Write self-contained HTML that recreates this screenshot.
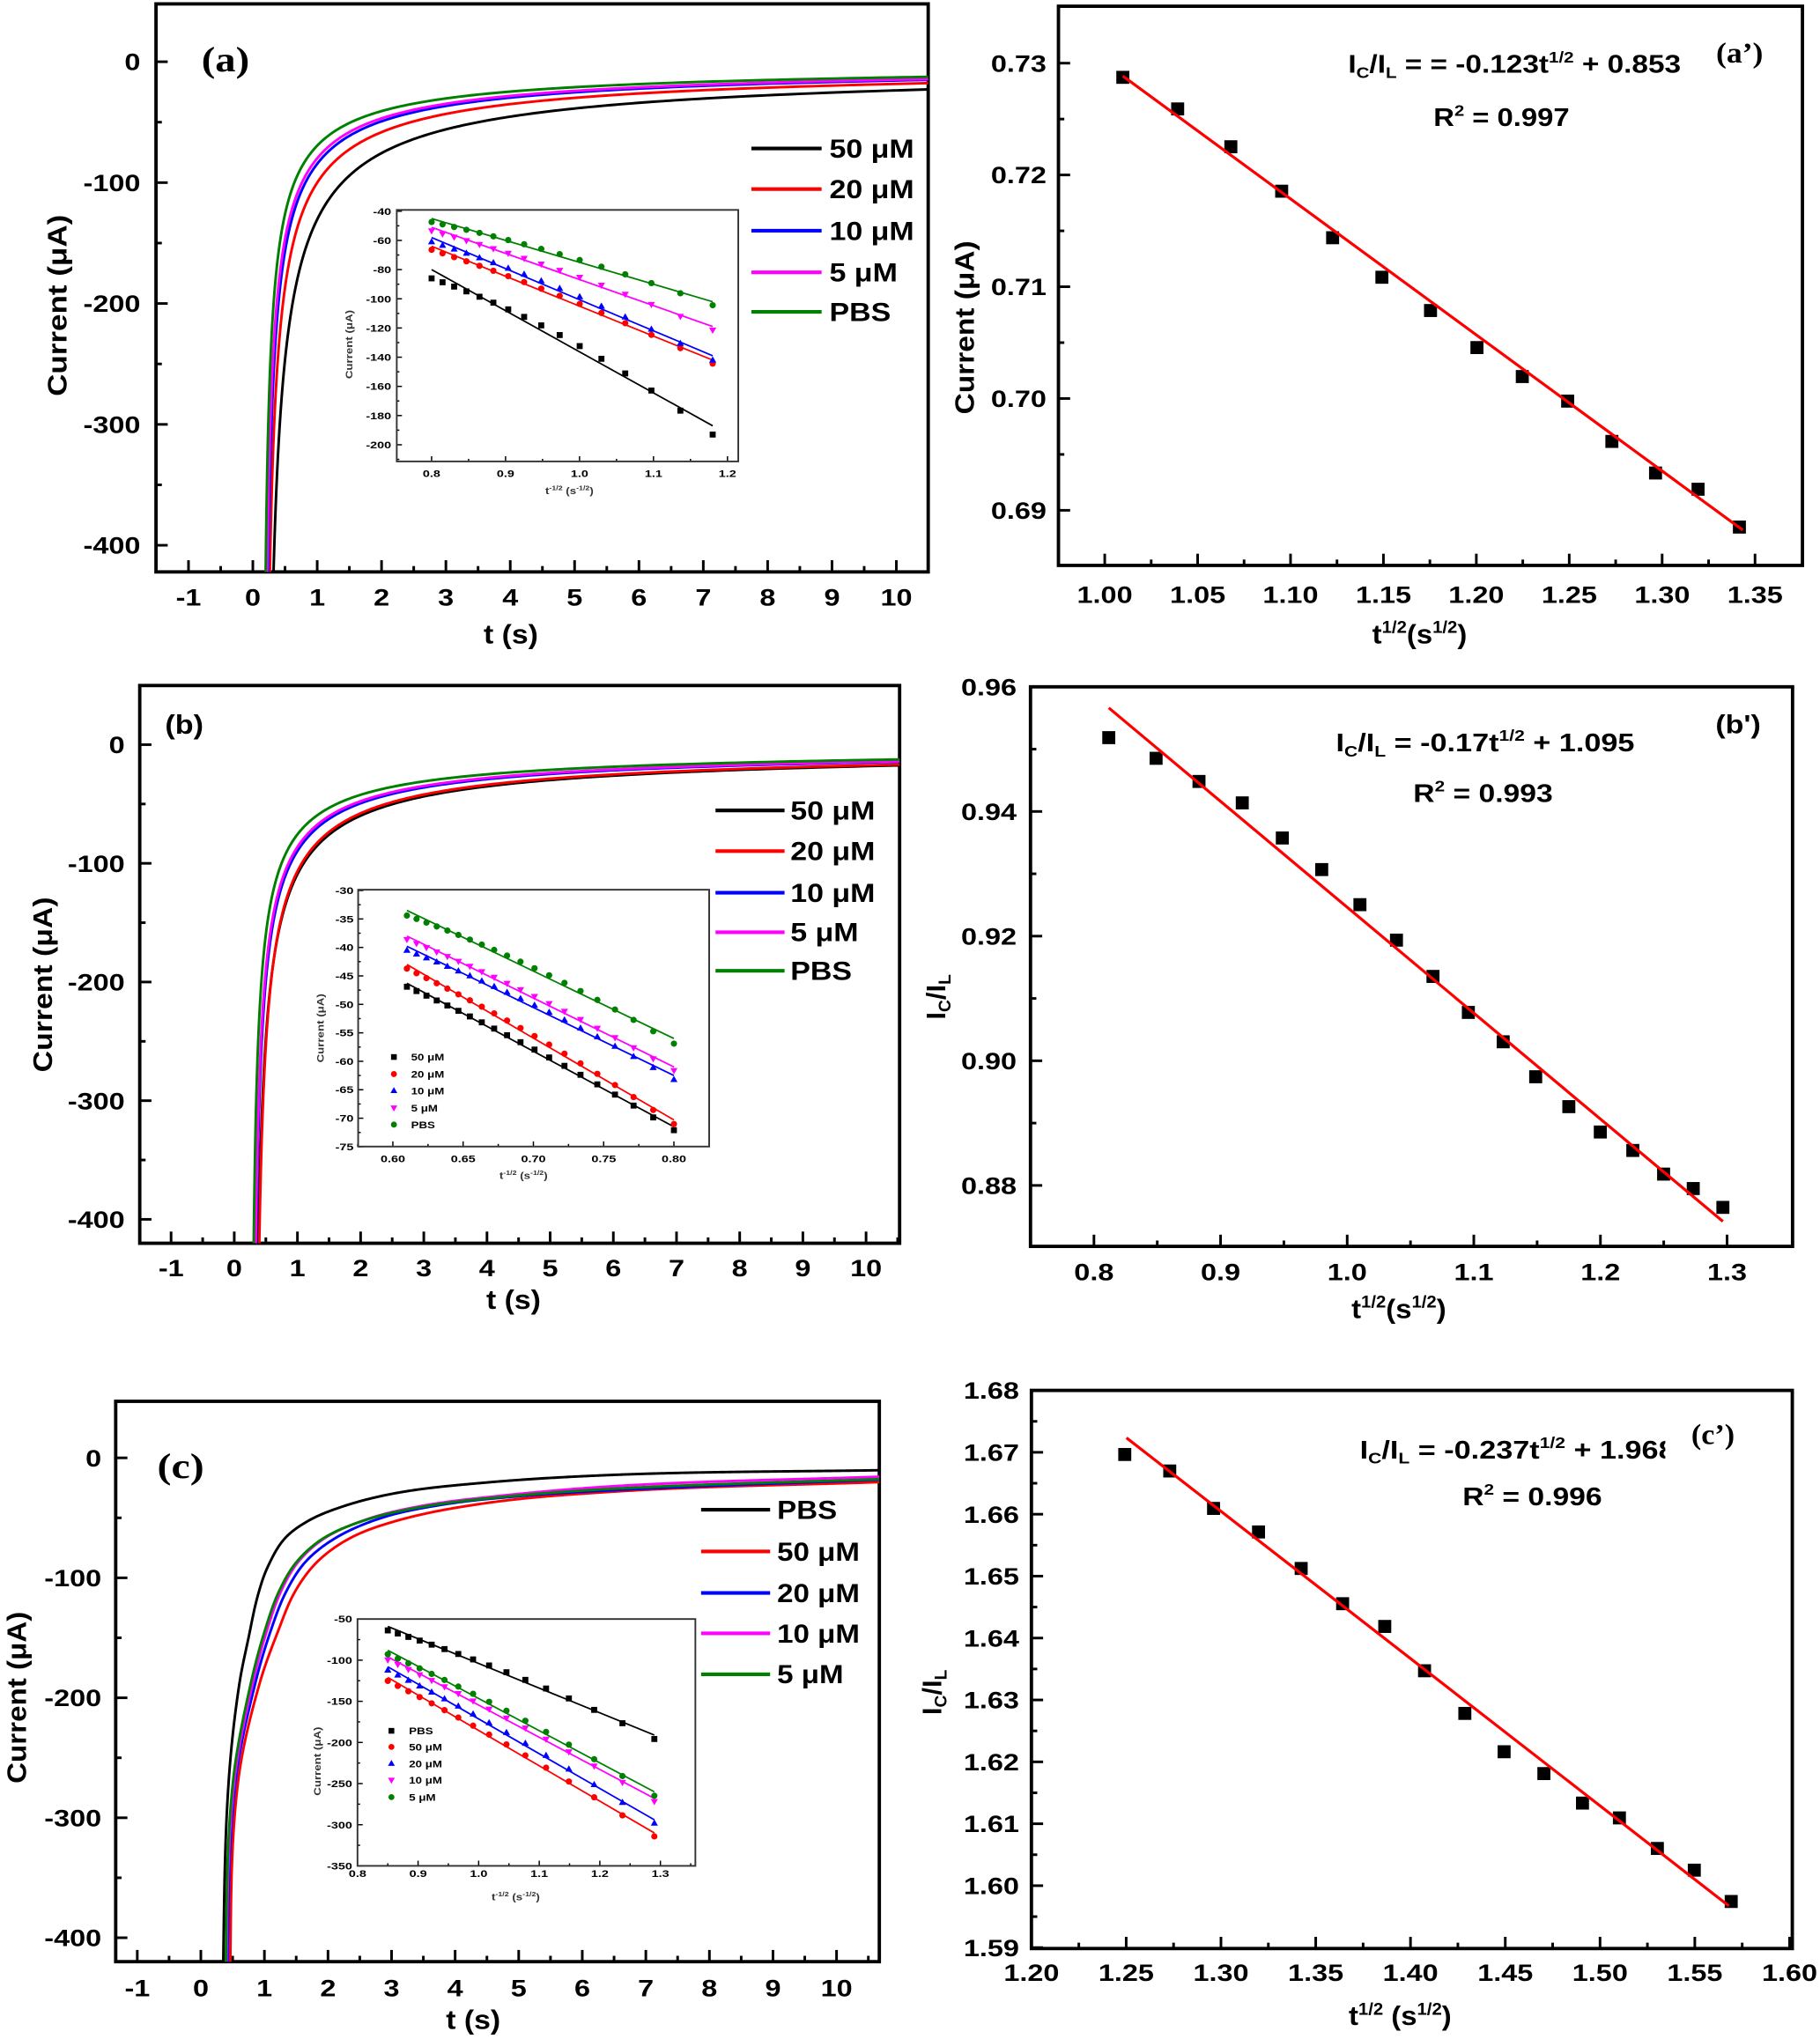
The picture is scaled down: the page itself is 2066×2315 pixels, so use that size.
<!DOCTYPE html>
<html><head><meta charset="utf-8">
<style>
html,body{margin:0;padding:0;background:#fff;width:2066px;height:2315px;overflow:hidden}
svg{display:block}
text{font-family:"Liberation Sans",Arial,sans-serif;font-weight:bold;fill:#000}
.tk{font-size:18px}
.it{font-size:7.5px;fill:#333}
.ser{font-family:"Liberation Serif","Times New Roman",serif}
.lg{font-size:20px}
</style></head>
<body>
<svg id="fig" width="2066" height="2315" viewBox="0 0 1400 1568.7" preserveAspectRatio="none">
<defs>
<clipPath id="ca"><rect x="120" y="3" width="594" height="437"/></clipPath>
<clipPath id="cb"><rect x="107.5" y="527.4" width="584.5" height="429.1"/></clipPath>
<clipPath id="cc"><rect x="89" y="1078.1" width="587.4" height="431.1"/></clipPath>
<clipPath id="ceq"><rect x="1000" y="1085" width="281" height="55"/></clipPath>
</defs>
<rect x="0" y="0" width="1400" height="1568.7" fill="#fff"/>
<g id="dyn"></g>

<!-- Panel (a) tick labels -->
<g class="tk" text-anchor="end">
<text transform="translate(108,54) scale(1.22,1)">0</text>
<text transform="translate(108,147) scale(1.22,1)">-100</text>
<text transform="translate(108,240) scale(1.22,1)">-200</text>
<text transform="translate(108,333) scale(1.22,1)">-300</text>
<text transform="translate(108,426) scale(1.22,1)">-400</text>
</g>
<g class="tk" text-anchor="middle">
<text transform="translate(145,466) scale(1.22,1)">-1</text>
<text transform="translate(194.5,466) scale(1.22,1)">0</text>
<text transform="translate(244,466) scale(1.22,1)">1</text>
<text transform="translate(293.5,466) scale(1.22,1)">2</text>
<text transform="translate(343,466) scale(1.22,1)">3</text>
<text transform="translate(392.5,466) scale(1.22,1)">4</text>
<text transform="translate(442,466) scale(1.22,1)">5</text>
<text transform="translate(491.5,466) scale(1.22,1)">6</text>
<text transform="translate(541,466) scale(1.22,1)">7</text>
<text transform="translate(590.5,466) scale(1.22,1)">8</text>
<text transform="translate(640,466) scale(1.22,1)">9</text>
<text transform="translate(689.5,466) scale(1.22,1)">10</text>
</g>
<text transform="translate(51,235) rotate(-90) scale(1.13,1)" text-anchor="middle" font-size="21">Current (μA)</text>
<text transform="translate(393,495) scale(1.09,1)" text-anchor="middle" font-size="21">t (s)</text>
<text class="ser" transform="translate(155,55) scale(1.17,1)" font-size="27">(a)</text>
<g class="lg">
<text transform="translate(638,121.2) scale(1.15,1)">50 μM</text>
<text transform="translate(638,152.5) scale(1.15,1)">20 μM</text>
<text transform="translate(638,184.5) scale(1.15,1)">10 μM</text>
<text transform="translate(638,216.5) scale(1.15,1)">5 μM</text>
<text transform="translate(638,246.9) scale(1.15,1)">PBS</text>
</g>
<!-- inset a labels -->
<g class="it" text-anchor="middle">
<text transform="translate(332,367) scale(1.3,1)">0.8</text>
<text transform="translate(388.9,367) scale(1.3,1)">0.9</text>
<text transform="translate(445.8,367) scale(1.3,1)">1.0</text>
<text transform="translate(502.7,367) scale(1.3,1)">1.1</text>
<text transform="translate(559.6,367) scale(1.3,1)">1.2</text>
</g>
<g class="it" text-anchor="end">
<text transform="translate(301,165.2) scale(1.3,1)">-40</text>
<text transform="translate(301,187.7) scale(1.3,1)">-60</text>
<text transform="translate(301,210.1) scale(1.3,1)">-80</text>
<text transform="translate(301,232.6) scale(1.3,1)">-100</text>
<text transform="translate(301,255) scale(1.3,1)">-120</text>
<text transform="translate(301,277.5) scale(1.3,1)">-140</text>
<text transform="translate(301,300) scale(1.3,1)">-160</text>
<text transform="translate(301,322.4) scale(1.3,1)">-180</text>
<text transform="translate(301,344.9) scale(1.3,1)">-200</text>
</g>
<text class="it" transform="translate(438,380) scale(1.2,1)" text-anchor="middle" font-size="7">t<tspan font-size="5" dy="-3">-1/2</tspan><tspan dy="3"> (s</tspan><tspan font-size="5" dy="-3">-1/2</tspan><tspan dy="3">)</tspan></text>
<text class="it" transform="translate(271,265) rotate(-90) scale(1.2,1)" text-anchor="middle" font-size="7">Current (μA)</text>

<!-- Panel (b) -->
<g class="tk" text-anchor="end">
<text transform="translate(96,579.4) scale(1.22,1)">0</text>
<text transform="translate(96,670.7) scale(1.22,1)">-100</text>
<text transform="translate(96,762) scale(1.22,1)">-200</text>
<text transform="translate(96,853.3) scale(1.22,1)">-300</text>
<text transform="translate(96,944.6) scale(1.22,1)">-400</text>
</g>
<g class="tk" text-anchor="middle">
<text transform="translate(131.6,982) scale(1.22,1)">-1</text>
<text transform="translate(180.2,982) scale(1.22,1)">0</text>
<text transform="translate(228.8,982) scale(1.22,1)">1</text>
<text transform="translate(277.4,982) scale(1.22,1)">2</text>
<text transform="translate(326,982) scale(1.22,1)">3</text>
<text transform="translate(374.6,982) scale(1.22,1)">4</text>
<text transform="translate(423.2,982) scale(1.22,1)">5</text>
<text transform="translate(471.8,982) scale(1.22,1)">6</text>
<text transform="translate(520.4,982) scale(1.22,1)">7</text>
<text transform="translate(569,982) scale(1.22,1)">8</text>
<text transform="translate(617.6,982) scale(1.22,1)">9</text>
<text transform="translate(666.2,982) scale(1.22,1)">10</text>
</g>
<text transform="translate(40,757.5) rotate(-90) scale(1.09,1)" text-anchor="middle" font-size="21">Current (μA)</text>
<text transform="translate(395,1007) scale(1.09,1)" text-anchor="middle" font-size="21">t (s)</text>
<text transform="translate(127,564.5) scale(1.1,1)" font-size="21">(b)</text>
<g class="lg">
<text transform="translate(608,630.5) scale(1.15,1)">50 μM</text>
<text transform="translate(608,661.8) scale(1.15,1)">20 μM</text>
<text transform="translate(608,693.8) scale(1.15,1)">10 μM</text>
<text transform="translate(608,724.2) scale(1.15,1)">5 μM</text>
<text transform="translate(608,753.9) scale(1.15,1)">PBS</text>
</g>
<g class="it" text-anchor="middle">
<text transform="translate(302.2,894) scale(1.3,1)">0.60</text>
<text transform="translate(356.3,894) scale(1.3,1)">0.65</text>
<text transform="translate(410.3,894) scale(1.3,1)">0.70</text>
<text transform="translate(464.4,894) scale(1.3,1)">0.75</text>
<text transform="translate(518.4,894) scale(1.3,1)">0.80</text>
</g>
<g class="it" text-anchor="end">
<text transform="translate(272,687.8) scale(1.3,1)">-30</text>
<text transform="translate(272,709.7) scale(1.3,1)">-35</text>
<text transform="translate(272,731.6) scale(1.3,1)">-40</text>
<text transform="translate(272,753.5) scale(1.3,1)">-45</text>
<text transform="translate(272,775.4) scale(1.3,1)">-50</text>
<text transform="translate(272,797.3) scale(1.3,1)">-55</text>
<text transform="translate(272,819.2) scale(1.3,1)">-60</text>
<text transform="translate(272,841.1) scale(1.3,1)">-65</text>
<text transform="translate(272,863) scale(1.3,1)">-70</text>
<text transform="translate(272,884.9) scale(1.3,1)">-75</text>
</g>
<g class="it">
<text transform="translate(316.2,815.9) scale(1.2,1)">50 μM</text>
<text transform="translate(316.2,829) scale(1.2,1)">20 μM</text>
<text transform="translate(316.2,841.9) scale(1.2,1)">10 μM</text>
<text transform="translate(316.2,855) scale(1.2,1)">5 μM</text>
<text transform="translate(316.2,867.9) scale(1.2,1)">PBS</text>
</g>
<text class="it" transform="translate(402.7,907) scale(1.2,1)" text-anchor="middle" font-size="7">t<tspan font-size="5" dy="-3">-1/2</tspan><tspan dy="3"> (s</tspan><tspan font-size="5" dy="-3">-1/2</tspan><tspan dy="3">)</tspan></text>
<text class="it" transform="translate(249,791) rotate(-90) scale(1.2,1)" text-anchor="middle" font-size="7">Current (μA)</text>

<!-- Panel (c) -->
<g class="tk" text-anchor="end">
<text transform="translate(78,1128.1) scale(1.22,1)">0</text>
<text transform="translate(78,1220.4) scale(1.22,1)">-100</text>
<text transform="translate(78,1312.7) scale(1.22,1)">-200</text>
<text transform="translate(78,1405) scale(1.22,1)">-300</text>
<text transform="translate(78,1497.3) scale(1.22,1)">-400</text>
</g>
<g class="tk" text-anchor="middle">
<text transform="translate(105.6,1536) scale(1.22,1)">-1</text>
<text transform="translate(154.5,1536) scale(1.22,1)">0</text>
<text transform="translate(203.4,1536) scale(1.22,1)">1</text>
<text transform="translate(252.3,1536) scale(1.22,1)">2</text>
<text transform="translate(301.2,1536) scale(1.22,1)">3</text>
<text transform="translate(350.1,1536) scale(1.22,1)">4</text>
<text transform="translate(399,1536) scale(1.22,1)">5</text>
<text transform="translate(447.9,1536) scale(1.22,1)">6</text>
<text transform="translate(496.8,1536) scale(1.22,1)">7</text>
<text transform="translate(545.7,1536) scale(1.22,1)">8</text>
<text transform="translate(594.6,1536) scale(1.22,1)">9</text>
<text transform="translate(643.5,1536) scale(1.22,1)">10</text>
</g>
<text transform="translate(20,1306) rotate(-90) scale(1.07,1)" text-anchor="middle" font-size="21">Current (μA)</text>
<text transform="translate(364,1561) scale(1.09,1)" text-anchor="middle" font-size="21">t (s)</text>
<text class="ser" transform="translate(121,1137) scale(1.2,1)" font-size="27">(c)</text>
<g class="lg">
<text transform="translate(597.8,1168.5) scale(1.12,1)">PBS</text>
<text transform="translate(597.8,1200.6) scale(1.12,1)">50 μM</text>
<text transform="translate(597.8,1232.5) scale(1.12,1)">20 μM</text>
<text transform="translate(597.8,1263.6) scale(1.12,1)">10 μM</text>
<text transform="translate(597.8,1295.1) scale(1.12,1)">5 μM</text>
</g>
<g class="it" text-anchor="middle">
<text transform="translate(275,1444) scale(1.3,1)">0.8</text>
<text transform="translate(321.6,1444) scale(1.3,1)">0.9</text>
<text transform="translate(368.2,1444) scale(1.3,1)">1.0</text>
<text transform="translate(414.8,1444) scale(1.3,1)">1.1</text>
<text transform="translate(461.4,1444) scale(1.3,1)">1.2</text>
<text transform="translate(508,1444) scale(1.3,1)">1.3</text>
</g>
<g class="it" text-anchor="end">
<text transform="translate(271,1248.3) scale(1.3,1)">-50</text>
<text transform="translate(271,1280) scale(1.3,1)">-100</text>
<text transform="translate(271,1311.6) scale(1.3,1)">-150</text>
<text transform="translate(271,1343.3) scale(1.3,1)">-200</text>
<text transform="translate(271,1374.9) scale(1.3,1)">-250</text>
<text transform="translate(271,1406.6) scale(1.3,1)">-300</text>
<text transform="translate(271,1438.2) scale(1.3,1)">-350</text>
</g>
<g class="it">
<text transform="translate(314.6,1334.3) scale(1.2,1)">PBS</text>
<text transform="translate(314.6,1346.7) scale(1.2,1)">50 μM</text>
<text transform="translate(314.6,1359.5) scale(1.2,1)">20 μM</text>
<text transform="translate(314.6,1372.2) scale(1.2,1)">10 μM</text>
<text transform="translate(314.6,1385.3) scale(1.2,1)">5 μM</text>
</g>
<text class="it" transform="translate(396.7,1462) scale(1.2,1)" text-anchor="middle" font-size="7">t<tspan font-size="5" dy="-3">-1/2</tspan><tspan dy="3"> (s</tspan><tspan font-size="5" dy="-3">-1/2</tspan><tspan dy="3">)</tspan></text>
<text class="it" transform="translate(246.5,1355) rotate(-90) scale(1.2,1)" text-anchor="middle" font-size="7">Current (μA)</text>

<!-- Panel (a') -->
<g class="tk" text-anchor="end">
<text transform="translate(805,55.1) scale(1.22,1)">0.73</text>
<text transform="translate(805,141.1) scale(1.22,1)">0.72</text>
<text transform="translate(805,227.1) scale(1.22,1)">0.71</text>
<text transform="translate(805,313.1) scale(1.22,1)">0.70</text>
<text transform="translate(805,399.1) scale(1.22,1)">0.69</text>
</g>
<g class="tk" text-anchor="middle">
<text transform="translate(849.8,464) scale(1.22,1)">1.00</text>
<text transform="translate(921.3,464) scale(1.22,1)">1.05</text>
<text transform="translate(992.7,464) scale(1.22,1)">1.10</text>
<text transform="translate(1064.2,464) scale(1.22,1)">1.15</text>
<text transform="translate(1135.6,464) scale(1.22,1)">1.20</text>
<text transform="translate(1207.1,464) scale(1.22,1)">1.25</text>
<text transform="translate(1278.6,464) scale(1.22,1)">1.30</text>
<text transform="translate(1350,464) scale(1.22,1)">1.35</text>
</g>
<text transform="translate(749,252) rotate(-90) scale(1.08,1)" text-anchor="middle" font-size="21">Current (μA)</text>
<text transform="translate(1092,495) scale(1.06,1)" text-anchor="middle" font-size="21">t<tspan font-size="13" dy="-8">1/2</tspan><tspan dy="8">(s</tspan><tspan font-size="13" dy="-8">1/2</tspan><tspan dy="8">)</tspan></text>
<text transform="translate(1037,56) scale(1.16,1)" font-size="19.5">I<tspan font-size="12" dy="4">C</tspan><tspan dy="-4">/I</tspan><tspan font-size="12" dy="4">L</tspan><tspan dy="-4"> = = -0.123t</tspan><tspan font-size="12" dy="-8">1/2</tspan><tspan dy="8"> + 0.853</tspan></text>
<text transform="translate(1155,97) scale(1.14,1)" text-anchor="middle" font-size="19.5">R<tspan font-size="12" dy="-8">2</tspan><tspan dy="8"> = 0.997</tspan></text>
<text class="ser" transform="translate(1320,48) scale(1.1,1)" font-size="22">(a’)</text>

<!-- Panel (b') -->
<g class="tk" text-anchor="end">
<text transform="translate(782,534.9) scale(1.22,1)">0.96</text>
<text transform="translate(782,630.8) scale(1.22,1)">0.94</text>
<text transform="translate(782,726.7) scale(1.22,1)">0.92</text>
<text transform="translate(782,822.6) scale(1.22,1)">0.90</text>
<text transform="translate(782,918.5) scale(1.22,1)">0.88</text>
</g>
<g class="tk" text-anchor="middle">
<text transform="translate(841.5,985) scale(1.22,1)">0.8</text>
<text transform="translate(938.9,985) scale(1.22,1)">0.9</text>
<text transform="translate(1036.3,985) scale(1.22,1)">1.0</text>
<text transform="translate(1133.7,985) scale(1.22,1)">1.1</text>
<text transform="translate(1231.1,985) scale(1.22,1)">1.2</text>
<text transform="translate(1328.5,985) scale(1.22,1)">1.3</text>
</g>
<text transform="translate(727,767) rotate(-90)" text-anchor="middle" font-size="21">I<tspan font-size="13" dy="4">C</tspan><tspan dy="-4">/I</tspan><tspan font-size="13" dy="4">L</tspan></text>
<text transform="translate(1076,1014) scale(1.06,1)" text-anchor="middle" font-size="21">t<tspan font-size="13" dy="-8">1/2</tspan><tspan dy="8">(s</tspan><tspan font-size="13" dy="-8">1/2</tspan><tspan dy="8">)</tspan></text>
<text transform="translate(1027.6,578) scale(1.19,1)" font-size="19.5">I<tspan font-size="12" dy="4">C</tspan><tspan dy="-4">/I</tspan><tspan font-size="12" dy="4">L</tspan><tspan dy="-4"> = -0.17t</tspan><tspan font-size="12" dy="-8">1/2</tspan><tspan dy="8"> + 1.095</tspan></text>
<text transform="translate(1140.8,617) scale(1.17,1)" text-anchor="middle" font-size="19.5">R<tspan font-size="12" dy="-8">2</tspan><tspan dy="8"> = 0.993</tspan></text>
<text transform="translate(1319.6,564) scale(1.15,1)" font-size="20">(b')</text>

<!-- Panel (c') -->
<g class="tk" text-anchor="end">
<text transform="translate(784,1076.2) scale(1.22,1)">1.68</text>
<text transform="translate(784,1123.8) scale(1.22,1)">1.67</text>
<text transform="translate(784,1171.5) scale(1.22,1)">1.66</text>
<text transform="translate(784,1219.1) scale(1.22,1)">1.65</text>
<text transform="translate(784,1266.7) scale(1.22,1)">1.64</text>
<text transform="translate(784,1314.4) scale(1.22,1)">1.63</text>
<text transform="translate(784,1362) scale(1.22,1)">1.62</text>
<text transform="translate(784,1409.6) scale(1.22,1)">1.61</text>
<text transform="translate(784,1457.2) scale(1.22,1)">1.60</text>
<text transform="translate(784,1504.9) scale(1.22,1)">1.59</text>
</g>
<g class="tk" text-anchor="middle">
<text transform="translate(793.4,1524) scale(1.22,1)">1.20</text>
<text transform="translate(866.3,1524) scale(1.22,1)">1.25</text>
<text transform="translate(939.2,1524) scale(1.22,1)">1.30</text>
<text transform="translate(1012.1,1524) scale(1.22,1)">1.35</text>
<text transform="translate(1085,1524) scale(1.22,1)">1.40</text>
<text transform="translate(1157.9,1524) scale(1.22,1)">1.45</text>
<text transform="translate(1230.8,1524) scale(1.22,1)">1.50</text>
<text transform="translate(1303.7,1524) scale(1.22,1)">1.55</text>
<text transform="translate(1376.6,1524) scale(1.22,1)">1.60</text>
</g>
<text transform="translate(724,1302) rotate(-90)" text-anchor="middle" font-size="21">I<tspan font-size="13" dy="4">C</tspan><tspan dy="-4">/I</tspan><tspan font-size="13" dy="4">L</tspan></text>
<text transform="translate(1077,1558) scale(1.06,1)" text-anchor="middle" font-size="21">t<tspan font-size="13" dy="-8">1/2</tspan><tspan dy="8"> (s</tspan><tspan font-size="13" dy="-8">1/2</tspan><tspan dy="8">)</tspan></text>
<g clip-path="url(#ceq)">
<text transform="translate(1046,1122) scale(1.19,1)" font-size="19.5">I<tspan font-size="12" dy="4">C</tspan><tspan dy="-4">/I</tspan><tspan font-size="12" dy="4">L</tspan><tspan dy="-4"> = -0.237t</tspan><tspan font-size="12" dy="-8">1/2</tspan><tspan dy="8"> + 1.968</tspan></text>
</g>
<text transform="translate(1178.7,1158) scale(1.17,1)" text-anchor="middle" font-size="19.5">R<tspan font-size="12" dy="-8">2</tspan><tspan dy="8"> = 0.996</tspan></text>
<text class="ser" transform="translate(1301,1111) scale(1.05,1)" font-size="22">(c’)</text>
</svg>

<script>
(function(){
var S=[];
function f(v){return (+v).toFixed(2);}
function ln(x1,y1,x2,y2,w,c){S.push('<line x1="'+f(x1)+'" y1="'+f(y1)+'" x2="'+f(x2)+'" y2="'+f(y2)+'" stroke="'+(c||'#000')+'" stroke-width="'+w+'"/>');}
function rng(a,b,s){var r=[],n=Math.round((b-a)/s);for(var i=0;i<=n;i++)r.push(a+i*s);return r;}
function axes(o){
  if(o.bg)S.push('<rect x="'+o.x0+'" y="'+o.y0+'" width="'+f(o.x1-o.x0)+'" height="'+f(o.y1-o.y0)+'" fill="#fff"/>');
  o.xt.forEach(function(v){var x=o.X(v);ln(x,o.y1,x,o.y1-o.L,o.tw);});
  o.xm.forEach(function(v){var x=o.X(v);ln(x,o.y1,x,o.y1-o.l,o.tw);});
  o.yt.forEach(function(v){var y=o.Y(v);ln(o.x0,y,o.x0+o.L,y,o.tw);});
  o.ym.forEach(function(v){var y=o.Y(v);ln(o.x0,y,o.x0+o.l,y,o.tw);});
  S.push('<rect x="'+o.x0+'" y="'+o.y0+'" width="'+f(o.x1-o.x0)+'" height="'+f(o.y1-o.y0)+'" fill="none" stroke="'+(o.fc||'#000')+'" stroke-width="'+o.w+'"/>');
}
function mk(sh,x,y,s,c){
  if(sh==='sq')S.push('<rect x="'+f(x-s)+'" y="'+f(y-s)+'" width="'+f(2*s)+'" height="'+f(2*s)+'" fill="'+c+'"/>');
  else if(sh==='ci')S.push('<circle cx="'+f(x)+'" cy="'+f(y)+'" r="'+f(s*1.05)+'" fill="'+c+'"/>');
  else if(sh==='tu')S.push('<path d="M'+f(x)+' '+f(y-s*1.3)+'L'+f(x+s*1.2)+' '+f(y+s*0.8)+'L'+f(x-s*1.2)+' '+f(y+s*0.8)+'Z" fill="'+c+'"/>');
  else if(sh==='td')S.push('<path d="M'+f(x)+' '+f(y+s*1.3)+'L'+f(x+s*1.2)+' '+f(y-s*0.8)+'L'+f(x-s*1.2)+' '+f(y-s*0.8)+'Z" fill="'+c+'"/>');
}
function curve(P,E,tE,t0,pw,col){
  var tmax=(P.x1-P.X(0))/(P.X(1)-P.X(0))+0.05;
  var a=E*Math.pow(tE-t0,pw),d='',n=500,dt0=0.004;
  for(var i=0;i<=n;i++){var t=t0+dt0*Math.pow((tmax-t0)/dt0,i/n);var I=-a/Math.pow(t-t0,pw);if(I<-800)I=-800;d+=(i?'L':'M')+f(P.X(t))+' '+f(P.Y(I));}
  S.push('<path d="'+d+'" fill="none" stroke="'+col+'" stroke-width="2" stroke-linejoin="round" clip-path="url(#'+P.clip+')"/>');
}
function mono(xs,ys){
  var n=xs.length,d=[],m=[],i;
  for(i=0;i<n-1;i++)d[i]=(ys[i+1]-ys[i])/(xs[i+1]-xs[i]);
  m[0]=d[0];m[n-1]=d[n-2];
  for(i=1;i<n-1;i++)m[i]=(d[i-1]*d[i]<=0)?0:(d[i-1]+d[i])/2;
  for(i=0;i<n-1;i++){
    if(d[i]===0){m[i]=0;m[i+1]=0;continue;}
    var a=m[i]/d[i],b=m[i+1]/d[i],h=a*a+b*b;
    if(h>9){var tau=3/Math.sqrt(h);m[i]=tau*a*d[i];m[i+1]=tau*b*d[i];}
  }
  return function(x){
    var k=0;while(k<n-2&&x>xs[k+1])k++;
    var hh=xs[k+1]-xs[k],t=(x-xs[k])/hh,t2=t*t,t3=t2*t;
    return (2*t3-3*t2+1)*ys[k]+(t3-2*t2+t)*hh*m[k]+(-2*t3+3*t2)*ys[k+1]+(t3-t2)*hh*m[k+1];
  };
}
/* pixel-space spline parameterised by chord length */
function pspl(P,pts,col){
  pts=[[pts[0][0]-0.012,-540]].concat(pts);
  var X=pts.map(function(p){return P.X(p[0]);}),Y=pts.map(function(p){return P.Y(p[1]);});
  var u=[0];for(var i=1;i<X.length;i++)u.push(u[i-1]+Math.sqrt(Math.pow(X[i]-X[i-1],2)+Math.pow(Y[i]-Y[i-1],2)));
  var fx=mono(u,X),fy=mono(u,Y),d='',n=700,U=u[u.length-1];
  for(var j=0;j<=n;j++){var s=U*j/n;d+=(j?'L':'M')+f(fx(s))+' '+f(fy(s));}
  S.push('<path d="'+d+'" fill="none" stroke="'+col+'" stroke-width="2" stroke-linejoin="round" clip-path="url(#'+P.clip+')"/>');
}
function inset(P,xa,xb,n,ser){
  ser.forEach(function(s){
    var col=s[0],sh=s[1],va=s[2],vb=s[3],A=s[4];
    var ta=1/(xb*xb),tb=1/(xa*xa);
    for(var i=0;i<n;i++){var t=ta+(tb-ta)*i/(n-1);var x=1/Math.sqrt(t);var u=(x-xa)/(xb-xa);var v=va+(vb-va)*u-A*(0.6-4*u*(1-u));mk(sh,P.X(x),P.Y(v),2.3,col);}
    ln(P.X(xa),P.Y(va),P.X(xb),P.Y(vb),1.2,col);
  });
}
function scat(pts,l){pts.forEach(function(p){mk('sq',p[0],p[1],5,'#000');});ln(l[0],l[1],l[2],l[3],2.2,'#ff0000');}
var K='#000',R='#ff0000',B='#0000ff',M='#ff00ff',G='#008000';

/* Panel a */
var A={x0:120,y0:3,x1:714,y1:440,X:function(t){return 194.5+49.5*t;},Y:function(I){return 47.5-0.93*I;},xt:rng(-1,10,1),xm:rng(-0.5,9.5,1),yt:rng(-400,0,100),ym:rng(-350,-50,100),L:9,l:4.5,tw:2,w:2.6,clip:'ca'};
axes(A);
curve(A,22.9,10.5,0.17,0.69,K);
curve(A,17.7,10.5,0.16,0.69,R);
curve(A,15,10.5,0.155,0.69,B);
curve(A,14.3,10.5,0.145,0.69,M);
curve(A,12.5,10.5,0.136,0.69,G);
[[K,114.2],[R,145.5],[B,177.5],[M,209.5],[G,239.9]].forEach(function(q){ln(578,q[1],632,q[1],2.8,q[0]);});
var Ia={x0:305.2,y0:161.5,x1:567.9,y1:355,X:function(v){return 332+(v-0.8)*569;},Y:function(v){return 162.5+(-40-v)*1.123;},xt:rng(0.8,1.2,0.1),xm:rng(0.85,1.15,0.1),yt:rng(-200,-40,20),ym:rng(-210,-50,20),L:4,l:2,tw:1,w:1.3,fc:'#333',bg:1};
axes(Ia);
inset(Ia,0.8,1.18,16,[[K,'sq',-80,-187,10],[R,'ci',-64,-142,4],[B,'tu',-58,-139,5],[M,'td',-51,-119,4],[G,'ci',-45,-102,4]]);

/* Panel b */
var Bp={x0:107.5,y0:527.4,x1:692,y1:956.5,X:function(t){return 180.2+48.6*t;},Y:function(I){return 572.9-0.913*I;},xt:rng(-1,10,1),xm:rng(-0.5,10.5,1),yt:rng(-400,0,100),ym:rng(-350,-50,100),L:9,l:4.5,tw:2,w:2.6,clip:'cb'};
axes(Bp);
curve(Bp,17.5,10.5,0.28,0.69,K);
curve(Bp,16.8,10.5,0.30,0.69,R);
curve(Bp,14.5,10.5,0.27,0.69,B);
curve(Bp,14,10.5,0.266,0.69,M);
curve(Bp,12.5,10.5,0.245,0.69,G);
[[K,623.5],[R,654.8],[B,686.8],[M,717.2],[G,746.9]].forEach(function(q){ln(550.4,q[1],603.5,q[1],2.8,q[0]);});
var Ib={x0:275.5,y0:684.5,x1:545.5,y1:882.1,X:function(v){return 302.2+(v-0.6)*1081;},Y:function(v){return 707+(-35-v)*4.38;},xt:rng(0.6,0.8,0.05),xm:[0.575].concat(rng(0.625,0.775,0.05)),yt:rng(-75,-30,5),ym:rng(-72.5,-32.5,5),L:4,l:2,tw:1,w:1.3,fc:'#333',bg:1};
axes(Ib);
inset(Ib,0.61,0.80,20,[[K,'sq',-46.3,-71.5,1],[R,'ci',-43,-70.3,1.2],[B,'tu',-39.8,-62.5,1.2],[M,'td',-38,-61,1],[G,'ci',-33.5,-56,1.5]]);
mk('sq',303,813.2,2.2,K);mk('ci',303,826.3,2.2,R);mk('tu',303,839.2,2.2,B);mk('td',303,852.3,2.2,M);mk('ci',303,865.2,2.2,G);

/* Panel c */
var C={x0:89,y0:1078.1,x1:676.4,y1:1509.2,X:function(t){return 154.5+48.9*t;},Y:function(I){return 1121.6-0.923*I;},xt:rng(-1,10,1),xm:rng(-0.5,10.5,1),yt:rng(-400,0,100),ym:rng(-350,-50,100),L:9,l:4.5,tw:2,w:2.6,clip:'cc'};
axes(C);
pspl(C,[[0.35,-430],[0.44,-268],[0.61,-187],[0.75,-150],[0.90,-114],[1.045,-91.7],[1.32,-67.2],[1.69,-52.5],[2.245,-40.3],[3.076,-29.3],[4.46,-20.7],[6.54,-14.1],[10.8,-10.2]],K);
pspl(C,[[0.46,-430],[0.59,-268],[0.93,-187],[1.207,-145.5],[1.483,-111.3],[1.828,-86.8],[2.337,-67.2],[3.076,-52.5],[4.46,-37.9],[6.54,-28],[10.8,-20]],R);
pspl(C,[[0.42,-430],[0.55,-268],[0.86,-187],[1.09,-145.5],[1.344,-111.3],[1.644,-86.8],[2.106,-67.2],[2.845,-50],[3.8,-39],[5.0,-32],[6.54,-26.8],[10.8,-18]],B);
pspl(C,[[0.40,-430],[0.53,-268],[0.82,-187],[1.03,-145.5],[1.26,-111.3],[1.53,-86.8],[1.94,-67.2],[2.60,-51.4],[3.45,-40.3],[4.7,-31.7],[6.54,-23.5],[10.8,-15.5]],M);
pspl(C,[[0.39,-430],[0.51,-268],[0.79,-187],[0.998,-145.5],[1.229,-111.3],[1.505,-86.8],[1.922,-67.2],[2.616,-51.4],[3.54,-40.3],[4.92,-31.7],[6.54,-25.6],[10.8,-17.5]],G);
[[K,1161.5],[R,1193.6],[B,1225.5],[M,1256.6],[G,1288.1]].forEach(function(q){ln(539.3,q[1],592.4,q[1],2.8,q[0]);});
var Ic={x0:275,y0:1245.6,x1:534.9,y1:1435.5,X:function(v){return 275+(v-0.8)*466;},Y:function(v){return 1245.6+(-50-v)*0.633;},xt:rng(0.8,1.3,0.1),xm:rng(0.85,1.35,0.1),yt:rng(-350,-50,50),ym:rng(-325,-75,50),L:4,l:2,tw:1,w:1.3,fc:'#333',bg:1};
axes(Ic);
inset(Ic,0.85,1.29,16,[[K,'sq',-59,-191,8],[R,'ci',-121,-310,7],[B,'tu',-108,-294,7],[M,'td',-96,-268,6],[G,'ci',-88,-260,8]]);
mk('sq',301.1,1331.6,2.2,K);mk('ci',301.1,1344,2.2,R);mk('tu',301.1,1356.8,2.2,B);mk('td',301.1,1369.5,2.2,M);mk('ci',301.1,1382.6,2.2,G);

/* Panel a' */
var Ap={x0:814.2,y0:4.8,x1:1386.5,y1:435,X:function(v){return 849.8+(v-1)*1429.2;},Y:function(v){return 48.6+(0.73-v)*8600;},xt:rng(1,1.35,0.05),xm:rng(1.025,1.325,0.05),yt:rng(0.69,0.73,0.01),ym:rng(0.695,0.725,0.01),L:9,l:4.5,tw:2,w:2.6};
axes(Ap);
scat([[863.7,59.5],[905.9,83.8],[946.8,112.9],[985.9,147.1],[1025.1,182.9],[1063,213.3],[1100.4,238.9],[1136.1,267.4],[1171,289.7],[1205.9,308.6],[1239.9,339.6],[1273.5,363.9],[1306.2,376.4],[1338,405.5]],[863.7,58.5,1340.6,407.8]);

/* Panel b' */
var Bq={x0:792.7,y0:528.4,x1:1378.9,y1:958.9,X:function(v){return 841.5+(v-0.8)*974;},Y:function(v){return 528.4+(0.96-v)*4795;},xt:rng(0.8,1.3,0.1),xm:rng(0.85,1.25,0.1),yt:rng(0.88,0.96,0.02),ym:rng(0.89,0.95,0.02),L:9,l:4.5,tw:2,w:2.6};
axes(Bq);
scat([[852.9,567.5],[889.3,583.4],[922.3,601.2],[955.6,617.7],[986.4,644.7],[1016.7,669],[1046.1,696],[1074.2,723.3],[1102.3,751.2],[1129.5,778.9],[1156.3,801.5],[1181.3,828.4],[1206.8,851.4],[1231,870.9],[1256,885.1],[1279.7,903.3],[1302.5,914.4],[1325.3,928.9]],[852.9,544.6,1325.3,939.7]);

/* Panel c' */
var Cq={x0:793.4,y0:1069.7,x1:1378.7,y1:1499.1,X:function(v){return 793.4+(v-1.2)*1458;},Y:function(v){return 1069.7+(1.68-v)*4763;},xt:rng(1.2,1.6,0.05),xm:rng(1.225,1.575,0.05),yt:rng(1.59,1.68,0.01),ym:rng(1.595,1.675,0.01),L:9,l:4.5,tw:2,w:2.6};
axes(Cq);
scat([[865.2,1119],[899.8,1131.7],[933.5,1160.5],[968.1,1178.6],[1000.9,1206.7],[1032.8,1233.8],[1065.2,1251.3],[1095.8,1285.4],[1126.8,1318.2],[1157,1347.7],[1187.6,1364.5],[1217.3,1387.2],[1245.7,1398.6],[1274.9,1422.1],[1303.3,1438.8],[1331.7,1462.9]],[866.5,1106.2,1329.9,1466.3]);

document.getElementById('dyn').innerHTML=S.join('');
})();
</script>
</body></html>
